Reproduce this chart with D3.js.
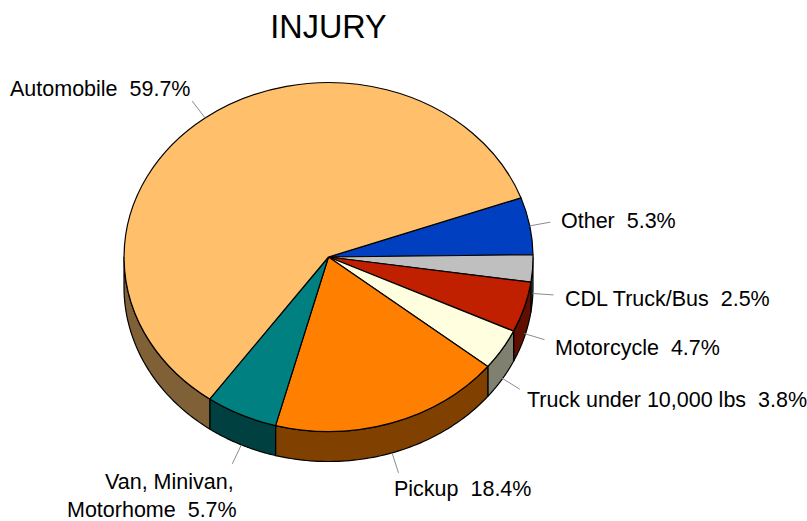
<!DOCTYPE html>
<html>
<head>
<meta charset="utf-8">
<script src="https://cdn.jsdelivr.net/npm/d3@7"></script>
<style>
  html, body { margin: 0; padding: 0; background: #fff; }
  svg { display: block; }
  text { font-family: "Liberation Sans", Arial, sans-serif; fill: #000; white-space: pre; }
</style>
</head>
<body>
<div id="chart"></div>
<script>
  // Slices in drawing order, clockwise from the top edge of "Other"
  const categories = ['Other', 'CDL Truck/Bus', 'Motorcycle', 'Truck under 10,000 lbs', 'Pickup', 'Van, Minivan,|Motorhome', 'Automobile'];
  const percents = [5.3, 2.5, 4.7, 3.8, 18.4, 5.7, 59.7];
  const colors = ['#0040c0', '#bfbfbf', '#c02000', '#ffffe0', '#ff8000', '#008080', '#ffbf6b'];

  // Where each label's first line starts
  const labelPlacement = [
    { x: 561, y: 228 },
    { x: 565, y: 306 },
    { x: 555, y: 355 },
    { x: 527, y: 407 },
    { x: 394, y: 496 },
    { x: 105, y: 489, x2: 67, y2: 517 },
    { x: 10, y: 96 }
  ];

  const width = 807, height = 521;
  const cx = 328.5, cy = 257, rx = 204.5, ry = 174.5, depth = 30;
  const leaderLen = 21;
  const labelSize = '21.5px';
  const startAngle = (90 - 19.8) * Math.PI / 180;

  const svg = d3.select('#chart').append('svg')
    .attr('width', width)
    .attr('height', height);

  const x = d3.scaleLinear().domain([-1, 1]).range([cx - rx, cx + rx]);
  const y = d3.scaleLinear().domain([-1, 1]).range([cy - ry, cy + ry]);

  const slices = d3.pie().sort(null).value(d => d)
    .startAngle(startAngle)
    .endAngle(startAngle + 2 * Math.PI)(percents);

  // Side wall: only the part of a slice on the front half of the ellipse
  const line = d3.line().x(d => d[0]).y(d => d[1]);
  const rim = a => [x(Math.sin(a)), y(-Math.cos(a))];

  slices.forEach((s, i) => {
    const a0 = Math.max(s.startAngle, Math.PI / 2);
    const a1 = Math.min(s.endAngle, 3 * Math.PI / 2);
    if (a1 <= a0) return;
    const top = d3.range(0, 61).map(k => rim(a0 + (a1 - a0) * k / 60));
    const bottom = top.map(p => [p[0], p[1] + depth]).reverse();
    svg.append('path')
      .attr('d', line(top.concat(bottom)) + 'Z')
      .attr('fill', d3.interpolateRgb(colors[i], '#000')(0.5))
      .attr('stroke', '#000')
      .attr('stroke-width', 1.2)
      .attr('stroke-linejoin', 'round');
  });

  // Top faces, unit-radius arcs squashed into the ellipse
  const arc = d3.arc().innerRadius(0).outerRadius(1);
  const face = svg.append('g')
    .attr('transform', `translate(${cx},${cy}) scale(${rx},${ry})`);

  face.selectAll('path')
    .data(slices)
    .enter()
    .append('path')
    .attr('d', arc)
    .attr('fill', (d, i) => colors[i])
    .attr('stroke', '#000')
    .attr('stroke-width', 1.2)
    .attr('stroke-linejoin', 'round')
    .attr('vector-effect', 'non-scaling-stroke');

  // Leader lines start on the rim at the slice's middle angle,
  // a little higher up the wall towards the right edge
  slices.forEach(s => {
    const mid = (s.startAngle + s.endAngle) / 2;
    const p = rim(mid);
    const drop = Math.cos(mid) < -0.05 ? depth - 5 * Math.max(0, Math.sin(mid)) ** 8 : 0;
    svg.append('line')
      .attr('x1', p[0])
      .attr('y1', p[1] + drop)
      .attr('x2', p[0] + leaderLen * Math.sin(mid))
      .attr('y2', p[1] + drop - leaderLen * Math.cos(mid))
      .attr('stroke', '#8c8c8c')
      .attr('stroke-width', 1);
  });

  // Labels
  categories.forEach((name, i) => {
    const parts = name.split('|');
    const pos = labelPlacement[i];
    const value = `  ${percents[i].toFixed(1)}%`;
    if (parts.length > 1) {
      svg.append('text').attr('x', pos.x).attr('y', pos.y).style('font-size', labelSize).text(parts[0]);
      svg.append('text').attr('x', pos.x2).attr('y', pos.y2).style('font-size', labelSize).text(parts[1] + value);
    } else {
      svg.append('text').attr('x', pos.x).attr('y', pos.y).style('font-size', labelSize).text(name + value);
    }
  });

  svg.append('text')
    .attr('x', cx)
    .attr('y', 38)
    .style('text-anchor', 'middle')
    .style('font-size', '32.4px')
    .text('INJURY');
</script>
</body>
</html>
